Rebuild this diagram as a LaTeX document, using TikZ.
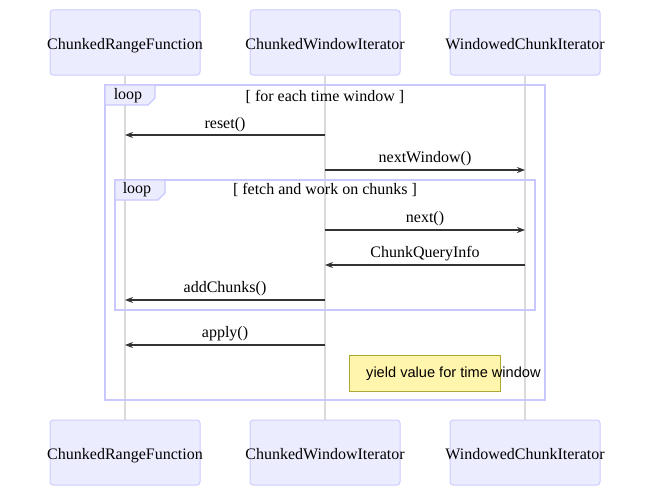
\documentclass[tikz,border=0pt]{standalone}
\usepackage{fontspec}
\setmainfont{Liberation Serif}
\newfontfamily\notefont{Liberation Sans}
\usetikzlibrary{arrows.meta,calc}
\definecolor{actorfill}{HTML}{ECECFF}
\definecolor{actorline}{HTML}{CCCCFF}
\definecolor{frameline}{HTML}{C8C8FF}
\definecolor{lifeline}{HTML}{DADADA}
\definecolor{msgcol}{HTML}{333333}
\definecolor{notefill}{HTML}{FFF5AD}
\definecolor{noteline}{HTML}{AAAA33}
\newcommand{\actortext}[1]{\raisebox{-6.5pt}[0pt][0pt]{\makebox[0pt][c]{#1}}}
\tikzset{
  actor/.style={draw=actorline, fill=actorfill, line width=1pt, rounded corners=3pt,
    minimum width=150pt, minimum height=65pt, inner sep=0pt,
    font=\fontsize{16}{19}\selectfont},
  life/.style={draw=lifeline, line width=1.5pt},
  frame/.style={draw=frameline, line width=1.8pt},
  framelab/.style={draw=frameline, fill=actorfill, line width=1.2pt},
  msg/.style={draw=msgcol, line width=1.3pt, -{Stealth[length=8pt,width=6pt]}},
  lbl/.style={font=\fontsize{16}{19}\selectfont, text=black, inner sep=0pt},
  note/.style={draw=noteline, fill=notefill, line width=1pt, minimum width=151pt,
    minimum height=36pt, inner sep=0pt},
}
\begin{document}
\begin{tikzpicture}[x=1pt,y=-1pt]
\useasboundingbox (0,0) rectangle (650,487);
% actors top
\node[actor] (a1t) at (125,42.5) {\actortext{ChunkedRangeFunction}};
\node[actor] (a2t) at (325,42.5) {\actortext{ChunkedWindowIterator}};
\node[actor] (a3t) at (525,42.5) {\actortext{WindowedChunkIterator}};
% actors bottom
\node[actor] (a1b) at (125,452.5) {\actortext{ChunkedRangeFunction}};
\node[actor] (a2b) at (325,452.5) {\actortext{ChunkedWindowIterator}};
\node[actor] (a3b) at (525,452.5) {\actortext{WindowedChunkIterator}};
% lifelines
\draw[life] (a1t.south) -- (a1b.north);
\draw[life] (a2t.south) -- (a2b.north);
\draw[life] (a3t.south) -- (a3b.north);
% outer loop
\draw[frame] (105,85) rectangle (545,400);
\draw[framelab] (105,85) -- (155,85) -- (155,98) -- (148,105) -- (105,105) -- cycle;
\node[lbl] (l1) at (128,96) {loop};
\node[lbl] (c1) at (325,97) {[ for each time window ]};
% inner loop
\draw[frame] (115,180) rectangle (535,310);
\draw[framelab] (115,180) -- (165,180) -- (165,193) -- (158,200) -- (115,200) -- cycle;
\node[lbl] (l2) at (137,190) {loop};
\node[lbl] (c2) at (325,190) {[ fetch and work on chunks ]};
% messages
\node[lbl] (t1) at (225,125) {reset()};
\draw[msg] (a2t |- 0,135) -- (a1t |- 0,135);
\node[lbl] (t2) at (425,159) {nextWindow()};
\draw[msg] (a2t |- 0,170) -- (a3t |- 0,170);
\node[lbl] (t3) at (425,219) {next()};
\draw[msg] (a2t |- 0,230) -- (a3t |- 0,230);
\node[lbl] (t4) at (425,254) {ChunkQueryInfo};
\draw[msg] (a3t |- 0,265) -- (a2t |- 0,265);
\node[lbl] (t5) at (225,289) {addChunks()};
\draw[msg] (a2t |- 0,300) -- (a1t |- 0,300);
\node[lbl] (t6) at (225,334) {apply()};
\draw[msg] (a2t |- 0,345) -- (a1t |- 0,345);
% note
\node[note] (n1) at (424.5,373) {};
\node[anchor=west, inner sep=0pt, font=\notefont\fontsize{14.6}{17}\selectfont] (nt) at (366,374) {yield value for time window};
\end{tikzpicture}
\end{document}
